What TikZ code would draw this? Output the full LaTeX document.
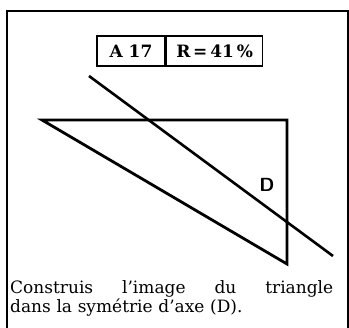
\documentclass[tikz,border=0pt]{standalone}
\usepackage{fontspec}
\setmainfont{DejaVu Serif}
\usepackage{tikz}
\usetikzlibrary{positioning}

\begin{document}
\begin{tikzpicture}[
  x=1pt, y=-1pt, node distance=0pt,
  frame/.style={line width=2pt},
  tag/.style={draw, line width=1.6pt, minimum height=30pt, inner sep=2pt,
              font=\fontsize{17}{17}\selectfont\bfseries},
  tri/.style={line width=2.8pt, line join=miter},
  axis/.style={line width=2.6pt}]

\useasboundingbox (0,0) rectangle (349,328);

% outer frame (bottom edge runs off the page)
\draw[frame] (7,340) -- (7,11) -- (348,11) -- (348,340);

% item tag
\node[tag, minimum width=68pt]  (item)  at (131,51) {A 17};
\node[tag, minimum width=96pt, right=of item] (rate) {R\,=\,41\,\%};

% triangle
\coordinate (tA) at (42,120);
\coordinate (tB) at (287,120);
\coordinate (tC) at (287,264);
\draw[tri] (tA) -- (tB) -- (tC) -- cycle;

% axis (D)
\coordinate (d1) at (89,76);
\coordinate (d2) at (333,256);
\draw[axis] (d1) -- (d2);
\node[font=\sffamily\bfseries\fontsize{19}{19}\selectfont] (lblD) at (267,185) {D};

% instruction
\node[anchor=base west, align=left, inner sep=0pt, text width=323pt,
      font=\fontsize{17}{19}\selectfont] (txt) at (10,294)
  {Construis\hfill l'image\hfill du\hfill triangle\\
   dans la symétrie d'axe (D).};
\end{tikzpicture}
\end{document}
